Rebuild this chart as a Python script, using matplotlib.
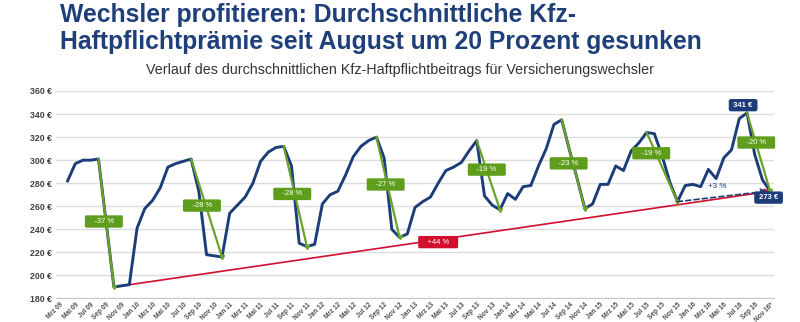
import matplotlib
matplotlib.use("Agg")
import matplotlib.pyplot as plt
from matplotlib.patches import FancyArrowPatch

plt.rcParams['font.family'] = ['Liberation Sans', 'DejaVu Sans']

# ---- data ----
# month index 0 = Mrz 09; data start at Apr 09 (index 1) up to Nov 16 (index 92)
month_index = list(range(1, 93))
praemie = [282, 297, 300, 300, 301, 246, 190, 191, 192, 241, 258, 265,
           276, 294, 297, 299, 301, 273, 218, 217, 216, 254, 261, 268,
           280, 299, 307, 311, 312, 295, 228, 225, 227, 262, 270, 273,
           287, 303, 312, 317, 320, 302, 240, 233, 236, 259, 264, 268,
           280, 291, 294, 298, 308, 317, 269, 261, 257, 271, 266, 277,
           278, 295, 310, 331, 335, 309, 284, 258, 262, 279, 279, 295,
           291, 308, 315, 324, 323, 304, 281, 264, 278, 279, 277, 292,
           284, 302, 309, 336, 341, 305, 283, 273]

tick_labels = ["Mrz 09", "Mai 09", "Jul 09", "Sep 09", "Nov 09",
               "Jan 10", "Mrz 10", "Mai 10", "Jul 10", "Sep 10", "Nov 10",
               "Jan 11", "Mrz 11", "Mai 11", "Jul 11", "Sep 11", "Nov 11",
               "Jan 12", "Mrz 12", "Mai 12", "Jul 12", "Sep 12", "Nov 12",
               "Jan 13", "Mrz 13", "Mai 13", "Jul 13", "Sep 13", "Nov 13",
               "Jan 14", "Mrz 14", "Mai 14", "Jul 14", "Sep 14", "Nov 14",
               "Jan 15", "Mrz 15", "Mai 15", "Jul 15", "Sep 15", "Nov 15",
               "Jan 16", "Mrz 16", "Mai 16", "Jul 16", "Sep 16", "Nov 16*"]
tick_positions = list(range(0, 93, 2))

y_ticks = [180, 200, 220, 240, 260, 280, 300, 320, 340, 360]
y_tick_labels = ["180 €", "200 €", "220 €", "240 €", "260 €", "280 €",
                 "300 €", "320 €", "340 €", "360 €"]

# drops: (start index, end index, label, label x, label y)
drop_start = [5, 17, 29, 41, 54, 65, 76, 89]
drop_end = [7, 21, 32, 44, 57, 68, 80, 92]
drop_labels = ["-37 %", "-28 %", "-28 %", "-27 %", "-19 %", "-23 %", "-19 %", "-20 %"]
drop_label_x = [5.7, 18.4, 30.1, 42.2, 55.3, 65.9, 76.6, 90.2]
drop_label_y = [246.8, 260.6, 270.7, 278.9, 291.8, 297.2, 306.0, 315.3]

trend_start, trend_end = 7, 92
trend_label, trend_label_x, trend_label_y = "+44 %", 49.0, 228.9
recent_start, recent_end = 80, 92
recent_label, recent_label_x, recent_label_y = "+3 %", 85.2, 277.5
peak_label, peak_x, peak_y = "341 €", 88.5, 347.7
last_label, last_x, last_y = "273 €", 91.8, 267.5

NAVY = "#1d3d78"
GREEN = "#6aa22a"
GREENBOX = "#5e9e1c"
RED = "#d0102e"
val = dict(zip(month_index, praemie))

fig = plt.figure(figsize=(8, 3.22), dpi=100)
ax = fig.add_axes([0.07, 0.0730, 0.8975, 0.6444])

ax.set_xlim(-0.5, 92.5)
ax.set_ylim(180, 360)
ax.set_yticks(y_ticks)
ax.set_yticklabels(y_tick_labels, fontsize=6.3, fontweight='bold', color='#404040')
ax.set_xticks(tick_positions)
ax.set_xticklabels(tick_labels, rotation=45, ha='right', rotation_mode='anchor',
                   fontsize=4.7, fontweight='bold', color='#505050')
ax.tick_params(axis='both', length=0, pad=3)
ax.tick_params(axis='x', pad=2)
for s in ['top', 'right', 'left']:
    ax.spines[s].set_visible(False)
ax.spines['bottom'].set_color('#c8c8c8')
ax.grid(axis='y', color='#dcdcdc', linewidth=1.0)
ax.set_axisbelow(True)

# main line
ax.plot(month_index, praemie, color=NAVY, linewidth=2.1, zorder=3, solid_joinstyle='round')

box_kw = dict(boxstyle='round,pad=0.35,rounding_size=0.2', ec='none')

# green drop lines and labels
for s, e, lab, lx, ly in zip(drop_start, drop_end, drop_labels, drop_label_x, drop_label_y):
    ax.plot([s, e], [val[s], val[e]], color=GREEN, linewidth=1.6, zorder=4)
    ax.text(lx, ly, "   " + lab + "   ", fontsize=5.5, color='white', ha='center', va='center',
            zorder=6, bbox=dict(fc=GREENBOX, **box_kw))
    ax.plot([e], [val[e]], marker='v', color=GREEN, markersize=3, zorder=4)

# red trend line
ax.add_patch(FancyArrowPatch((trend_start, val[trend_start]), (trend_end, val[trend_end]),
                             arrowstyle='-|>,head_length=3,head_width=2', color=RED,
                             linewidth=1.2, zorder=2, shrinkA=0, shrinkB=0))
ax.text(trend_label_x, trend_label_y, "   " + trend_label + "   ", fontsize=5.5, color='white',
        ha='center', va='center', zorder=6, bbox=dict(fc=RED, **box_kw))

# dashed recent line
ax.add_patch(FancyArrowPatch((recent_start, val[recent_start]), (recent_end - 0.5, val[recent_end]),
                             arrowstyle='-|>,head_length=3,head_width=2', color=NAVY,
                             linewidth=1.2, linestyle=(0, (3, 2)), zorder=5, shrinkA=0, shrinkB=0))
ax.text(recent_label_x, recent_label_y, recent_label, fontsize=5.8, color=NAVY, ha='center',
        va='center', zorder=6)

# value boxes
for lab, lx, ly in [(peak_label, peak_x, peak_y), (last_label, last_x, last_y)]:
    ax.text(lx, ly, " " + lab + " ", fontsize=5.5, color='white', fontweight='bold', ha='center',
            va='center', zorder=7,
            bbox=dict(boxstyle='round,pad=0.35,rounding_size=0.3', fc=NAVY, ec='none'))

fig.text(0.075, 0.99, "Wechsler profitieren: Durchschnittliche Kfz-\nHaftpflichtprämie seit August um 20 Prozent gesunken",
         fontsize=17.8, fontweight='bold', color='#1e3f7a', ha='left', va='top', linespacing=1.12)
fig.text(0.5, 0.782, "Verlauf des durchschnittlichen Kfz-Haftpflichtbeitrags für Versicherungswechsler",
         fontsize=10.3, color='#333333', ha='center', va='center')

fig.savefig("out.png", dpi=100)
